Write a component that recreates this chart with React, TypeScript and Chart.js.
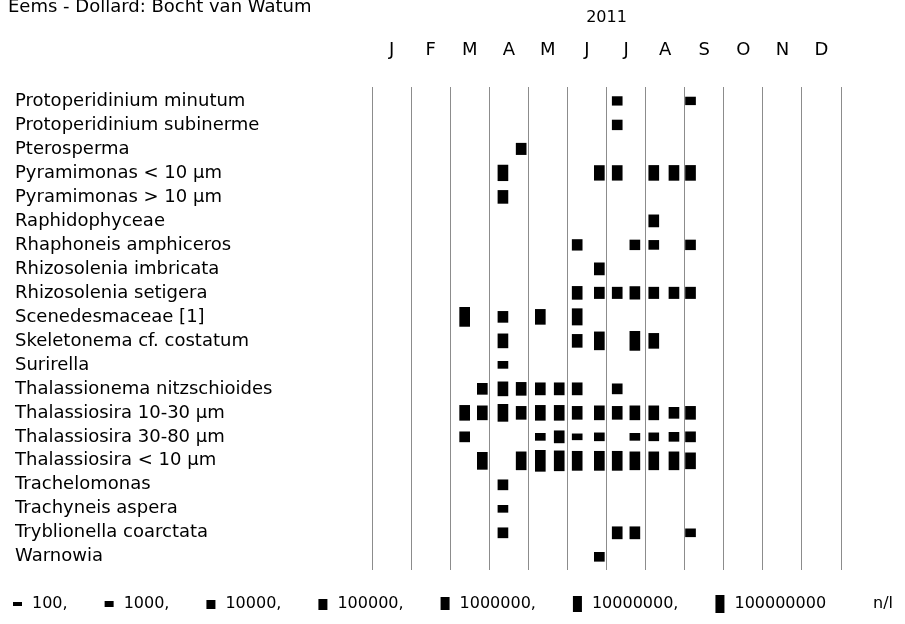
import React, { useEffect, useRef } from "react";
import { Chart, registerables } from "chart.js";

Chart.register(...registerables);

// ---------- data ----------
const TITLE = "Eems - Dollard: Bocht van Watum";
const YEAR = "2011";
const MONTHS = ["J", "F", "M", "A", "M", "J", "J", "A", "S", "O", "N", "D"];
const SAMPLE_DATES = [
  "2011-03-12", "2011-03-26", "2011-04-11", "2011-04-25", "2011-05-10",
  "2011-05-25", "2011-06-08", "2011-06-25", "2011-07-09", "2011-07-23",
  "2011-08-07", "2011-08-23", "2011-09-05",
];
const SPECIES = [
  "Protoperidinium minutum",
  "Protoperidinium subinerme",
  "Pterosperma",
  "Pyramimonas < 10 µm",
  "Pyramimonas > 10 µm",
  "Raphidophyceae",
  "Rhaphoneis amphiceros",
  "Rhizosolenia imbricata",
  "Rhizosolenia setigera",
  "Scenedesmaceae [1]",
  "Skeletonema cf. costatum",
  "Surirella",
  "Thalassionema nitzschioides",
  "Thalassiosira 10-30 µm",
  "Thalassiosira 30-80 µm",
  "Thalassiosira < 10 µm",
  "Trachelomonas",
  "Trachyneis aspera",
  "Tryblionella coarctata",
  "Warnowia",
];
const _ = null;
// abundances (n/l) per sample date, null = not observed
const PROTO_MINUTUM = [_, _, _, _, _, _, _, _, 10000, _, _, _, 4000];
const PROTO_SUBINERME = [_, _, _, _, _, _, _, _, 30000, _, _, _, _];
const PTEROSPERMA = [_, _, _, 150000, _, _, _, _, _, _, _, _, _];
const PYRAMI_SMALL = [_, _, 1e7, _, _, _, _, 4e6, 4e6, _, 5e6, 5e6, 5e6];
const PYRAMI_LARGE = [_, _, 700000, _, _, _, _, _, _, _, _, _, _];
const RAPHIDO = [_, _, _, _, _, _, _, _, _, _, 300000, _, _];
const RHAPHONEIS = [_, _, _, _, _, _, 75000, _, _, 30000, 14000, _, 30000];
const RHIZO_IMBR = [_, _, _, _, _, _, _, 300000, _, _, _, _, _];
const RHIZO_SETI = [_, _, _, _, _, _, 700000, 150000, 150000, 500000, 150000, 150000, 150000];
const SCENEDES = [3e8, _, 100000, _, 5e6, _, 2e7, _, _, _, _, _, _];
const SKELETO = [_, _, 2e6, _, _, _, 700000, 1e8, _, 3e8, 5e6, _, _];
const SURIRELLA = [_, _, 2000, _, _, _, _, _, _, _, _, _, _];
const THALNEMA = [_, 100000, 2e6, 700000, 300000, 300000, 300000, _, 40000, _, _, _, _];
const THAL_10_30 = [5e6, 2e6, 4e7, 700000, 5e6, 5e6, 700000, 2e6, 700000, 2e6, 2e6, 100000, 700000];
const THAL_30_80 = [40000, _, _, _, 2000, 300000, 700, 5000, _, 2000, 5000, 14000, 40000];
const THAL_LT10 = [_, 4e7, _, 1e8, 2e9, 7e8, 3e8, 3e8, 3e8, 1e8, 1e8, 1e8, 1.4e7];
const TRACHELO = [_, _, 40000, _, _, _, _, _, _, _, _, _, _];
const TRACHYNEIS = [_, _, 2000, _, _, _, _, _, _, _, _, _, _];
const TRYBLIO = [_, _, 40000, _, _, _, _, _, 300000, 300000, _, _, 5000];
const WARNOWIA = [_, _, _, _, _, _, _, 14000, _, _, _, _, _];
const COUNTS = [
  PROTO_MINUTUM, PROTO_SUBINERME, PTEROSPERMA, PYRAMI_SMALL, PYRAMI_LARGE,
  RAPHIDO, RHAPHONEIS, RHIZO_IMBR, RHIZO_SETI, SCENEDES, SKELETO, SURIRELLA,
  THALNEMA, THAL_10_30, THAL_30_80, THAL_LT10, TRACHELO, TRACHYNEIS, TRYBLIO, WARNOWIA,
];
const LEGEND_VALUES = [100, 1000, 10000, 100000, 1000000, 10000000, 100000000];
const UNIT = "n/l";

// ---------- layout / style ----------
const W = 905;
const H = 624;
const FONT = "DejaVu Sans";
const AREA_LEFT = 372;
const AREA_RIGHT = 841;
const AREA_TOP = 87;
const AREA_BOTTOM = 570;
const Y_MIN = -0.58;
const Y_MAX = 19.55;
const ROW_PX = (AREA_BOTTOM - AREA_TOP) / (Y_MAX - Y_MIN);

const markHeight = (n: number) => 2.33 * Math.log10(n) - 0.67;

const monthPos = (iso: string) => {
  const [y, m, d] = iso.split("-").map(Number);
  const dim = new Date(y, m, 0).getDate();
  return m - 1 + (d - 0.5) / dim;
};

const titlePlugin = {
  id: "sizeTitleLegend",
  afterDraw(chart: any) {
    const ctx = chart.ctx;
    ctx.save();
    ctx.fillStyle = "#000";
    ctx.font = `18px "${FONT}"`;
    ctx.textBaseline = "alphabetic";
    ctx.textAlign = "left";
    ctx.fillText(TITLE, 8, 12);

    // size legend
    ctx.font = `16px "${FONT}"`;
    const cy = 604;
    let x = 13;
    LEGEND_VALUES.forEach((v, i) => {
      const h = markHeight(v);
      const w = 9;
      ctx.fillRect(x, Math.round(cy - h / 2), w, Math.round(h));
      x += w + 10;
      const label = String(v) + (i < LEGEND_VALUES.length - 1 ? "," : "");
      ctx.textBaseline = "middle";
      ctx.fillText(label, x, cy);
      x += ctx.measureText(label).width + 37;
    });
    ctx.fillText(UNIT, 873, cy);
    ctx.restore();
  },
};

export default function App() {
  const ref = useRef<HTMLCanvasElement | null>(null);

  useEffect(() => {
    document.body.style.margin = "0";
    document.body.style.overflow = "hidden";
    const canvas = ref.current;
    if (!canvas) return;

    const xs = SAMPLE_DATES.map(monthPos);
    const data: any[] = [];
    COUNTS.forEach((row, r) => {
      row.forEach((n, i) => {
        if (n == null) return;
        const half = markHeight(n) / 2 / ROW_PX;
        data.push({ x: xs[i], y: [r - half, r + half] });
      });
    });

    const labelFont = { family: FONT, size: 18 };
    const yearFont = { family: FONT, size: 16 };
    const chart = new Chart(canvas, {
      type: "bar",
      data: {
        datasets: [
          {
            data,
            backgroundColor: "#000",
            borderWidth: 0,
            barThickness: 10,
            borderSkipped: false,
          } as any,
        ],
      },
      options: {
        animation: false,
        responsive: false,
        events: [],
        layout: {
          padding: { left: 15, right: W - AREA_RIGHT, top: 0, bottom: H - AREA_BOTTOM },
        },
        plugins: { legend: { display: false }, tooltip: { enabled: false } },
        scales: {
          x: {
            type: "linear",
            position: "top",
            min: 0,
            max: 12,
            offset: false,
            weight: 0,
            afterBuildTicks: (s: any) => {
              s.ticks = [...MONTHS.map((_m, i) => ({ value: i })), { value: 12 }];
            },
            ticks: { display: false },
            grid: { color: "#8c8c8c", lineWidth: 1, drawTicks: false, offset: false },
            border: { display: false },
            afterFit: (s: any) => {
              s.height = 0;
            },
          },
          xm: {
            type: "linear",
            position: "top",
            min: 0,
            max: 12,
            offset: false,
            weight: 1,
            afterBuildTicks: (s: any) => {
              s.ticks = MONTHS.map((_m, i) => ({ value: i + 0.5 }));
            },
            ticks: {
              callback: (_v: any, i: number) => MONTHS[i],
              autoSkip: false,
              maxRotation: 0,
              padding: 26,
              font: labelFont,
              color: "#000",
            },
            grid: { display: false, drawTicks: false, offset: false },
            border: { display: false },
            title: {
              display: true,
              text: YEAR,
              padding: { top: 8, bottom: 0 },
              font: yearFont,
              color: "#000",
            },
            afterFit: (s: any) => {
              s.height = AREA_TOP;
            },
          },
          y: {
            type: "linear",
            reverse: true,
            min: Y_MIN,
            max: Y_MAX,
            afterBuildTicks: (s: any) => {
              s.ticks = SPECIES.map((_n, i) => ({ value: i }));
            },
            ticks: {
              callback: (_v: any, i: number) => SPECIES[i],
              crossAlign: "far",
              autoSkip: false,
              font: labelFont,
              color: "#000",
            },
            grid: { display: false, drawTicks: false },
            border: { display: false },
            afterFit: (s: any) => {
              s.width = AREA_LEFT - 15;
            },
          },
        },
      } as any,
      plugins: [titlePlugin],
    });
    return () => chart.destroy();
  }, []);

  return (
    <div style={{ width: W, height: H }}>
      <canvas ref={ref} width={W} height={H} style={{ display: "block" }} />
    </div>
  );
}
